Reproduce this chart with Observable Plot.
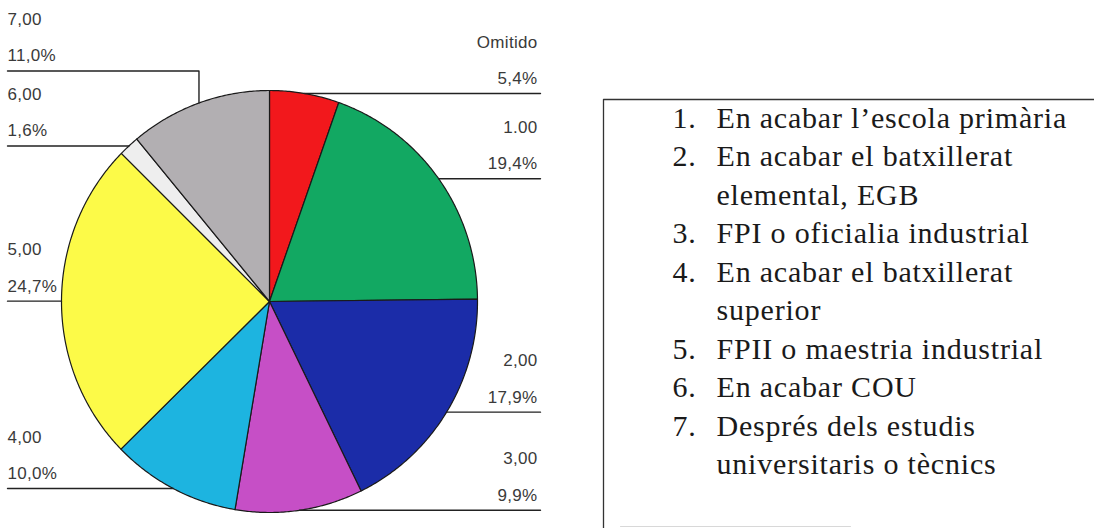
<!DOCTYPE html>
<html><head><meta charset="utf-8">
<script src="https://cdn.jsdelivr.net/npm/d3@7"></script>
<script src="https://cdn.jsdelivr.net/npm/@observablehq/plot@0.6"></script>
<style>
html,body{margin:0;padding:0;background:#fff;}
#chart{width:1094px;height:528px;overflow:hidden;}
.legend-text text{letter-spacing:0.8px;}
.pie-label text{letter-spacing:0.3px;}
</style></head><body><div id="chart"></div>
<script>
// ---- data ----
const categories = ["Omitido", "1.00", "2,00", "3,00", "4,00", "5,00", "6,00", "7,00"];
const percents = [5.4, 19.4, 17.9, 9.9, 10.0, 24.7, 1.6, 11.0];
const sliceColors = ["#f2181c", "#12a862", "#1b2ca8", "#c64fc6", "#1db4e0", "#fcfa48", "#eeeeee", "#b2afb2"];
const legendNumbers = ["1.", "2.", "3.", "4.", "5.", "6.", "7."];
const legendTexts = [
  "En acabar l’escola primària",
  "En acabar el batxillerat\nelemental, EGB",
  "FPI o oficialia industrial",
  "En acabar el batxillerat\nsuperior",
  "FPII o maestria industrial",
  "En acabar COU",
  "Després dels estudis\nuniversitaris o tècnics"
];

// ---- layout (pixels) ----
const W = 1094, H = 528, CX = 269, CY = 301, RX = 208, RY = 211;
const ux = px => (px - CX) / RX, uy = py => (CY - py) / RY;
const LEFT_COL = 7, RIGHT_COL = 540, GAP = 75;

const fmtPct = v => d3.format(".1f")(v).replace(".", ",") + "%";
const arcs = d3.pie().sort(null).value(d => d)(percents);

// slice outlines
const piePts = [];
arcs.forEach((a, i) => {
  piePts.push({k: i, x: 0, y: 0});
  const steps = Math.max(2, Math.ceil((a.endAngle - a.startAngle) / (Math.PI / 360)));
  for (let s = 0; s <= steps; s++) {
    const t = a.startAngle + (a.endAngle - a.startAngle) * s / steps;
    piePts.push({k: i, x: Math.sin(t), y: Math.cos(t)});
  }
  piePts.push({k: i, x: 0, y: 0});
});

// labels
const labels = arcs.map((a, i) => {
  const m = (a.startAngle + a.endAngle) / 2;
  const ex = Math.sin(m), ey = Math.cos(m);
  return {i, ex, ey, left: m > Math.PI, py: CY - RY * ey, px: CX + RX * ex};
});
labels.forEach(l => l.ly = l.py);
const leftL = labels.filter(l => l.left).sort((a, b) => b.py - a.py);
for (let j = 1; j < leftL.length; j++) leftL[j].ly = Math.min(leftL[j].ly, leftL[j - 1].ly - GAP);
const rightL = labels.filter(l => !l.left).sort((a, b) => a.py - b.py);
for (let j = 1; j < rightL.length; j++) rightL[j].ly = Math.max(rightL[j].ly, rightL[j - 1].ly + GAP);

const leaderPts = [];
labels.forEach(l => {
  const col = l.left ? LEFT_COL : RIGHT_COL;
  leaderPts.push({k: l.i, x: ux(col), y: uy(l.ly)});
  leaderPts.push({k: l.i, x: l.ex, y: uy(l.ly)});
  if (Math.abs(l.ly - l.py) > 0.5) leaderPts.push({k: l.i, x: l.ex, y: l.ey});
});

const leftTexts = [], rightTexts = [];
labels.forEach(l => {
  const col = l.left ? LEFT_COL : RIGHT_COL - 3;
  const arr = l.left ? leftTexts : rightTexts;
  arr.push({x: ux(col), y: uy(l.ly - 46), t: categories[l.i]});
  arr.push({x: ux(col), y: uy(l.ly - 9.5), t: fmtPct(percents[l.i])});
});

// legend lines
const legendNums = [], legendLines = [];
let L = 0;
legendTexts.forEach((txt, i) => {
  legendNums.push({x: ux(672), y: uy(127 + 38.5 * L), t: legendNumbers[i]});
  txt.split("\n").forEach(line => {
    legendLines.push({x: ux(716), y: uy(127 + 38.5 * L), t: line});
    L++;
  });
});
const boxPts = [{x: ux(603), y: uy(528)}, {x: ux(603), y: uy(99)}, {x: ux(W), y: uy(99)}];
const faintPts = [{x: ux(620), y: uy(526)}, {x: ux(850), y: uy(526)}];

const labelStyle = {x: "x", y: "y", text: "t", lineAnchor: "bottom", fontSize: 17, fill: "#3a3a3a", fontFamily: "Liberation Sans, Arial, sans-serif", className: "pie-label"};
const legendStyle = {x: "x", y: "y", text: "t", textAnchor: "start", lineAnchor: "bottom", fontSize: 30, fill: "#1a1a1a", fontFamily: "Liberation Serif, Times New Roman, serif", className: "legend-text"};

const chart = Plot.plot({
  width: W, height: H, margin: 0,
  x: {domain: [-1, 1], range: [CX - RX, CX + RX], axis: null},
  y: {domain: [-1, 1], range: [CY + RY, CY - RY], axis: null},
  color: {type: "identity"},
  style: {background: "#fff", overflow: "visible"},
  marks: [
    Plot.line(piePts, {x: "x", y: "y", z: "k", fill: d => sliceColors[d.k], stroke: "#1a1a1a", strokeWidth: 1.2, strokeLinejoin: "round"}),
    Plot.line(leaderPts, {x: "x", y: "y", z: "k", stroke: "#222", strokeWidth: 1.4}),
    Plot.text(leftTexts, {...labelStyle, textAnchor: "start"}),
    Plot.text(rightTexts, {...labelStyle, textAnchor: "end"}),
    Plot.line(boxPts, {x: "x", y: "y", stroke: "#333", strokeWidth: 1.3}),
    Plot.line(faintPts, {x: "x", y: "y", stroke: "#d8d8d8", strokeWidth: 1}),
    Plot.text(legendNums, legendStyle),
    Plot.text(legendLines, legendStyle)
  ]
});
document.getElementById("chart").appendChild(chart);
</script>
</body></html>
